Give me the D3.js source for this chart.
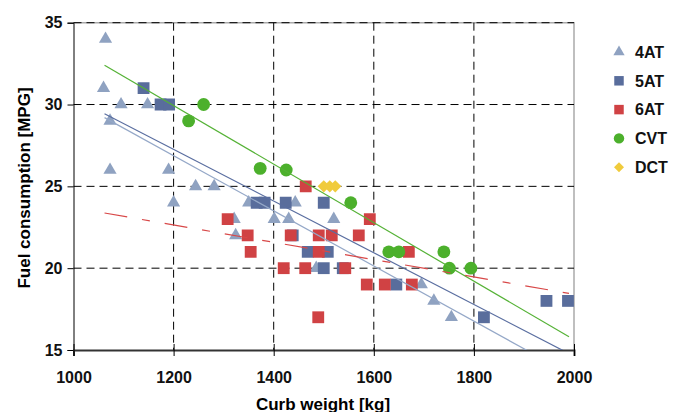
<!DOCTYPE html>
<html>
<head>
<meta charset="utf-8">
<script src="https://cdn.jsdelivr.net/npm/d3@7"></script>
<style>
body{margin:0;background:#fff;}
svg{font-family:"Liberation Sans",Arial,sans-serif;font-weight:bold;}
</style>
</head>
<body>
<div id="chart"></div>
<script>
//DATA - curb weight [kg], fuel consumption [MPG]
const categories = ["4AT","5AT","6AT","CVT","DCT"];

const at4 = [[1064,34],[1060,31],[1095,30],[1148,30],[1073,29],[1073,26],[1190,26],[1244,25],[1281,25],
  [1200,24],[1350,24],[1443,24],[1321,23],[1401,23],[1430,23],[1520,23],[1324,22],[1485,20],
  [1695,19],[1720,18],[1755,17]];
const at5 = [[1140,31],[1174,30],[1191,30],[1366,24],[1382,24],[1424,24],[1500,24],[1438,22],
  [1468,21],[1508,21],[1500,20],[1538,20],[1645,19],[1820,17],[1945,18],[1988,18]];
const at6 = [[1308,23],[1348,22],[1354,21],[1464,25],[1592,23],[1434,22],[1490,22],[1516,22],[1570,22],
  [1490,21],[1670,21],[1420,20],[1463,20],[1543,20],[1586,19],[1622,19],[1676,19],[1489,17]];
const cvt = [[1230,29],[1260,30],[1373,26.1],[1425,26],[1554,24],[1630,21],[1650,21],[1740,21],[1751,20],[1794,20]];
const dct = [[1500,25],[1512,25],[1523,25]];

//trend lines at both ends
const trendX = [1062,1990];
const trend4AT = [29.2,13.56];
const trend5AT = [29.44,14.78];
const trend6AT = [23.37,18.46];
const trendCVT = [32.4,15.81];

const xTicks = [1000,1200,1400,1600,1800,2000];
const yTicks = [15,20,25,30,35];

//LAYOUT
const W = 680, H = 412;
const margin = {top:22.7, left:73.5, right:106, bottom:62};
const width = W - margin.left - margin.right;
const height = H - margin.top - margin.bottom;

const svg = d3.select("#chart").append("svg").attr("width",W).attr("height",H);
const g = svg.append("g").attr("transform",`translate(${margin.left},${margin.top})`);

const x = d3.scaleLinear().domain([1000,2000]).range([0,width]);
const y = d3.scaleLinear().domain([15,35]).range([height,0]);

g.append("clipPath").attr("id","clip").append("rect").attr("width",width).attr("height",height);

//plot border (top/right)
g.append("path").attr("d",`M0,0H${width}V${height}`).attr("fill","none").attr("stroke","#aaa").attr("stroke-width",1.5);

//grid
g.append("g").selectAll("line").data(xTicks.slice(1,-1)).join("line")
  .attr("x1",d=>x(d)).attr("x2",d=>x(d)).attr("y1",0).attr("y2",height)
  .attr("stroke","#000").attr("stroke-dasharray","8,5");
g.append("g").selectAll("line").data(yTicks.slice(1)).join("line")
  .attr("x1",0).attr("x2",width).attr("y1",d=>y(d)).attr("y2",d=>y(d))
  .attr("stroke","#000").attr("stroke-dasharray","8,5");

//axes
const yAxis = g.append("g").call(d3.axisLeft(y).tickValues(yTicks).tickSize(6).tickPadding(5));
yAxis.select(".domain").attr("stroke","#000");
const xAxis = g.append("g").attr("transform",`translate(0,${height})`)
  .call(d3.axisBottom(x).tickValues(xTicks).tickFormat(d3.format("d")).tickSize(6).tickPadding(16));
xAxis.select(".domain").attr("stroke","#333").attr("stroke-width",2);
xAxis.selectAll(".tick line").attr("y1",-6);
svg.selectAll(".tick text").attr("font-size",16).attr("font-weight","bold").attr("font-family","Liberation Sans, Arial, sans-serif").attr("fill","#111");

//titles
svg.append("text").attr("x",323).attr("y",410).attr("text-anchor","middle")
  .attr("font-size",17).text("Curb weight [kg]");
svg.append("text").attr("transform","translate(30,188) rotate(-90)").attr("text-anchor","middle")
  .attr("font-size",17).text("Fuel consumption [MPG]");

//series styles
const series = [
  {name:"4AT", data:at4, color:"#8fa2c1", sym:d3.symbolTriangle, size:75, rot:0},
  {name:"5AT", data:at5, color:"#596d9c", sym:d3.symbolSquare, size:140, rot:0},
  {name:"6AT", data:at6, color:"#d04244", sym:d3.symbolSquare, size:140, rot:0},
  {name:"CVT", data:cvt, color:"#4cb02c", sym:d3.symbolCircle, size:130, rot:0},
  {name:"DCT", data:dct, color:"#f0cb3c", sym:d3.symbolSquare, size:75, rot:45}
];

const plot = g.append("g").attr("clip-path","url(#clip)");
series.forEach(s => {
  plot.append("g").selectAll("path").data(s.data).join("path")
    .attr("d", d3.symbol(s.sym, s.size))
    .attr("transform", d => `translate(${x(d[0])},${y(d[1])}) rotate(${s.rot})`)
    .attr("fill", s.color);
});

//trend lines
const trends = [
  {vals:trend4AT, color:"#95a8c8", dash:null},
  {vals:trend5AT, color:"#5a6ea0", dash:null},
  {vals:trendCVT, color:"#55b236", dash:null},
  {vals:trend6AT, color:"#d84848", dash:"23,15,8,15"}
];
const line = d3.line().x(d=>x(d[0])).y(d=>y(d[1]));
trends.forEach(t => {
  plot.append("path").attr("d", line(trendX.map((v,i)=>[v,t.vals[i]])))
    .attr("fill","none").attr("stroke",t.color).attr("stroke-width",1.2)
    .attr("stroke-dasharray",t.dash);
});

//legend
const legend = svg.append("g").attr("transform","translate(619,52)");
const legendSizes = [55,90,90,85,50];
series.forEach((s,i) => {
  const row = legend.append("g").attr("transform",`translate(0,${i*28.8})`);
  row.append("path").attr("d", d3.symbol(s.sym, legendSizes[i]))
    .attr("transform",`rotate(${s.rot})`).attr("fill", s.color);
  row.append("text").attr("x",16).attr("dy","0.36em").attr("font-size",16).attr("fill","#111").text(s.name);
});
</script>
</body>
</html>
